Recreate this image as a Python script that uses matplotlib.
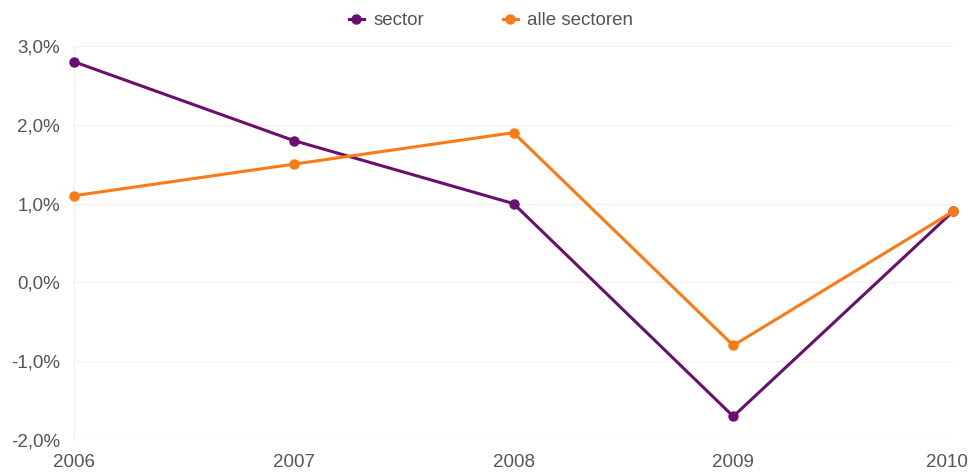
import matplotlib.pyplot as plt
import matplotlib.transforms as mtransforms
from matplotlib.ticker import FuncFormatter

plt.rcParams['font.family'] = ['Liberation Sans', 'DejaVu Sans']

# data
years = [2006, 2007, 2008, 2009, 2010]
sector = [2.8, 1.8, 1.0, -1.7, 0.9]
alle_sectoren = [1.1, 1.5, 1.9, -0.8, 0.9]
y_ticks = [-2, -1, 0, 1, 2, 3]

purple = '#6b0f6e'
orange = '#fb7a14'
text_col = '#555555'

fig = plt.figure(figsize=(9.72, 4.74), dpi=100)
ax = fig.add_axes([0.0761, 0.0717, 0.9044, 0.8313])

ax.plot(years, sector, color=purple, lw=2.2, marker='o', ms=6.5, label='sector', clip_on=False, zorder=3)
ax.plot(years, alle_sectoren, color=orange, lw=2.2, marker='o', ms=6.5, label='alle sectoren', clip_on=False, zorder=3)

ax.set_xlim(2006, 2010)
ax.set_ylim(-2, 3)
ax.set_xticks(years)
ax.set_yticks(y_ticks)
ax.yaxis.set_major_formatter(FuncFormatter(lambda v, p: f"{v:.1f}%".replace('.', ',')))

ax.grid(axis='y', color='#f2f2f2', lw=1)
ax.set_axisbelow(True)
for s in ['top', 'right', 'bottom']:
    ax.spines[s].set_visible(False)
ax.spines['left'].set_color('#eeeeee')
ax.tick_params(length=0, labelsize=13.5, colors=text_col)
ax.tick_params(axis='x', pad=10)
ax.tick_params(axis='y', pad=10)

# last year label sits a little inwards so it stays inside the picture
last = ax.get_xticklabels()[-1]
last.set_transform(last.get_transform() + mtransforms.ScaledTranslation(-6 / 100, 0, fig.dpi_scale_trans))

fig.legend(loc='upper center', bbox_to_anchor=(0.505, 1.01), ncol=2, frameon=False,
           fontsize=13.5, labelcolor=text_col, handlelength=0.8, columnspacing=4.2,
           handletextpad=0.5)

fig.savefig('out.png', dpi=100)
